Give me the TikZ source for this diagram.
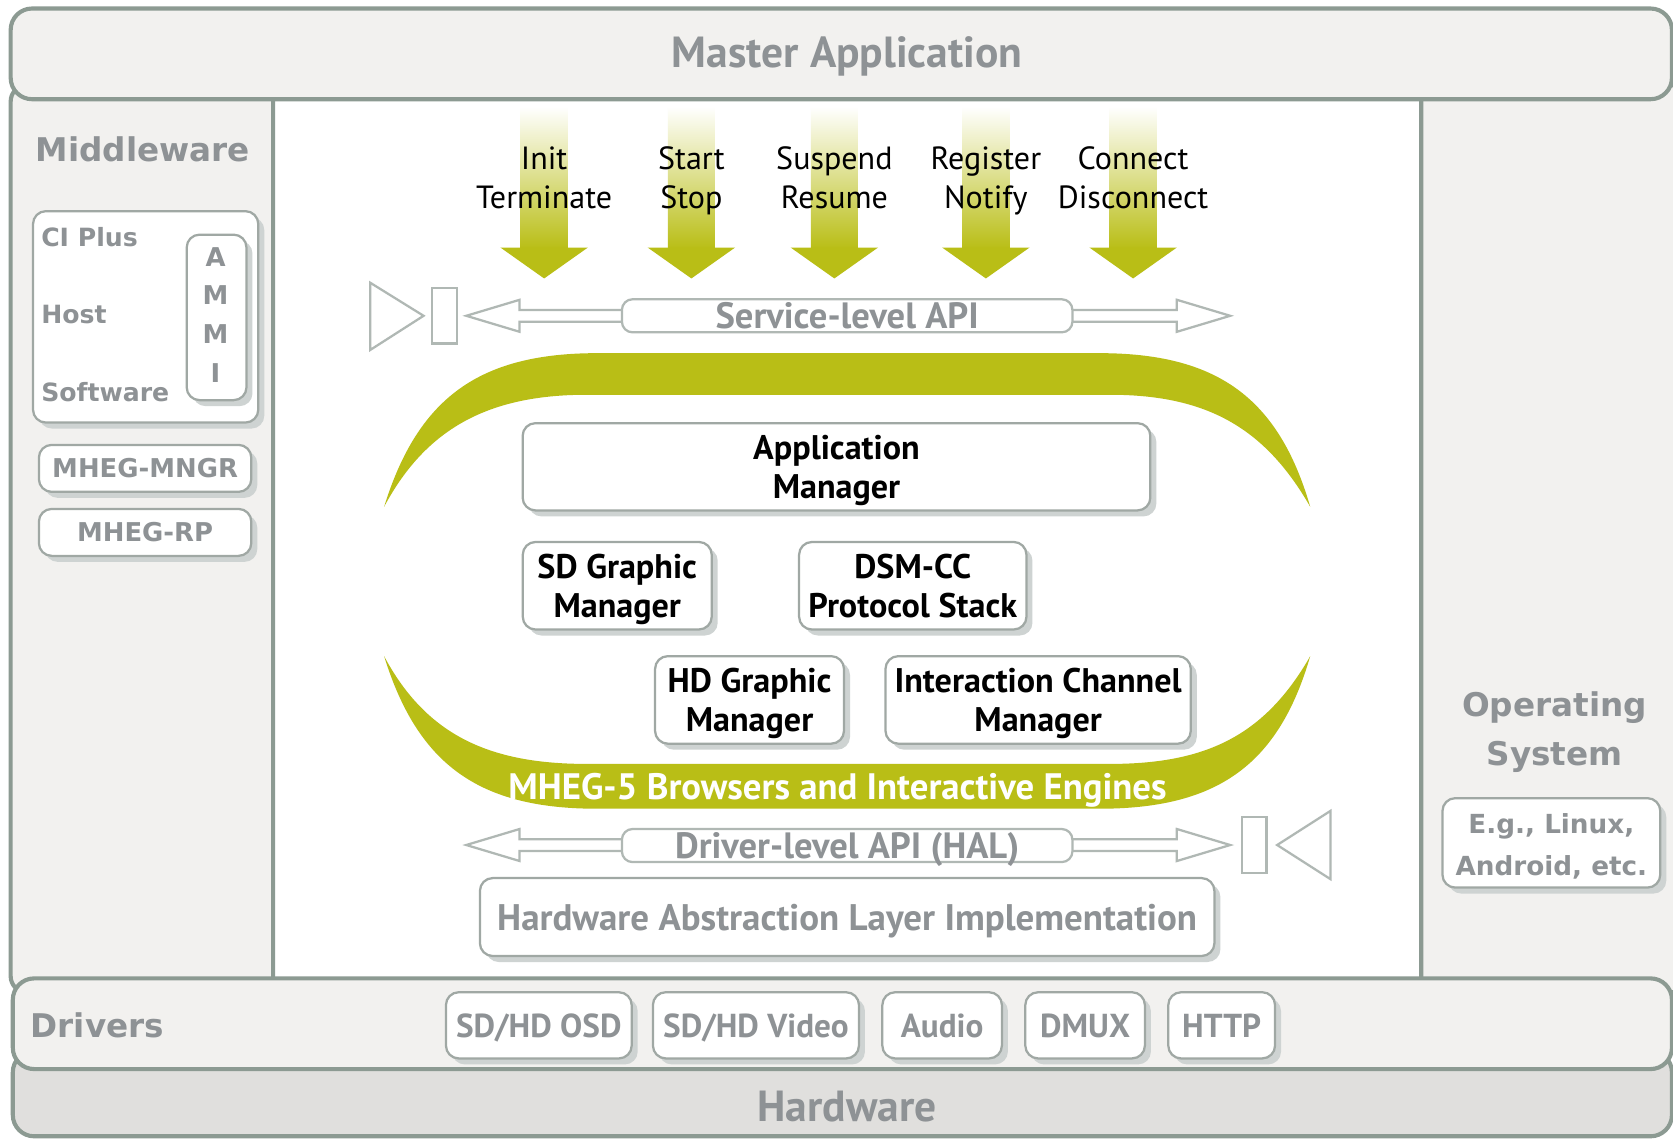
\documentclass[tikz,border=0pt]{standalone}
\usepackage{fontspec}
\setmainfont{PT Sans}
\newfontfamily\verfont{DejaVu Sans}
\usetikzlibrary{shadows}
\definecolor{bordc}{RGB}{140,154,146}
\definecolor{panelc}{RGB}{242,241,239}
\definecolor{hwc}{RGB}{224,223,221}
\definecolor{txtc}{RGB}{142,146,149}
\definecolor{mhegolive}{RGB}{185,190,22}
\definecolor{boxc}{RGB}{160,168,164}
\definecolor{shadowc}{RGB}{206,211,210}
\definecolor{apic}{RGB}{176,184,180}
\newcommand\fsz[2]{\fontsize{#1}{#2}\selectfont}
\newcommand\hitop{\rule{0pt}{9.6pt}}
\newcommand\egtop{\rule{0pt}{9.4pt}}
\tikzset{
  panel/.style={draw=bordc, line width=1.1pt, fill=panelc},
  wbox/.style={draw=boxc, line width=0.6pt, fill=white, rounded corners=1.2mm,
    drop shadow={shadow xshift=1.6pt, shadow yshift=-1.6pt, fill=shadowc, opacity=1},
    inner sep=0pt, align=center},
  apiarrow/.style={draw=apic, line width=0.6pt, fill=white},
  apibox/.style={draw=apic, line width=0.6pt, fill=white, rounded corners=1mm, inner sep=0pt,
    minimum width=42.2mm, minimum height=3.1mm, text=txtc, font=\bfseries\fsz{9.75}{11},
    text depth=0pt},
  graybig/.style={text=txtc, font=\bfseries\fsz{11.6}{13}, anchor=base},
  verbig/.style={text=txtc, font=\verfont\bfseries\fsz{8.7}{13.1}, align=center, inner sep=0pt},
  versmall/.style={text=txtc, font=\verfont\bfseries\fsz{6.9}{11.1}, align=center, inner sep=0pt},
  blackbox/.style={wbox, font=\bfseries\fsz{9.1}{10.5}},
  drvbox/.style={wbox, text=txtc, font=\bfseries\fsz{8.85}{10}, minimum height=6.2mm, text depth=0pt},
  arrlbl/.style={font=\fsz{8.55}{10.5}, align=center, inner sep=0pt},
}
\begin{document}
\begin{tikzpicture}[x=0.01cm,y=-0.01cm]
\useasboundingbox (0,0) rectangle (1568,1068);
\begin{scope}
\clip (0,0) rectangle (1568,1068);
% background panels
\fill[white] (0,0) rectangle (1568,1068);
\draw[panel, rounded corners=1.5mm] (10,80) rectangle (256,930);
\draw[panel, rounded corners=1.5mm] (1332,80) rectangle (1600,930);
\draw[panel, rounded corners=2mm] (10,8) rectangle (1567,93);
\draw[panel, fill=hwc, rounded corners=2mm] (12,985) rectangle (1567,1065);
\draw[panel, rounded corners=2mm] (12,917) rectangle (1567,1002);
\end{scope}

\node[graybig] (master) at (794,63) {Master Application};
\node[graybig] (hardware) at (794,1051) {Hardware};
\node[verbig] (middleware) at (134,140) {Middleware};
\node[verbig] (os) at (1457,686) {Operating\\System};
\node[verbig, anchor=west] (drivers) at (28,961) {Drivers};

% CI Plus box
\node[wbox, minimum width=21.1mm, minimum height=19.8mm] (ci) at (136.5,297) {};
\node[versmall, anchor=west, font=\verfont\bfseries\fsz{6.7}{11}] (ciplus) at (38,222) {CI Plus};
\node[versmall, anchor=west, font=\verfont\bfseries\fsz{6.7}{11}] (host) at (38,295) {Host};
\node[versmall, anchor=west, font=\verfont\bfseries\fsz{6.7}{11}] (software) at (38,368) {Software};
\node[wbox, minimum width=5.6mm, minimum height=15.5mm] (ammi) at (203,297.5) {};
\foreach \l/\yy [count=\i] in {A/241,M/277,M/313,I/350}
  \node[versmall] (ammi\i) at (202,\yy) {\l};
\node[wbox, minimum width=19.9mm, minimum height=4.4mm, versmall] (mngr) at (136,439) {MHEG-MNGR};
\node[wbox, minimum width=19.9mm, minimum height=4.4mm, versmall] (rp) at (136,499) {MHEG-RP};
\node[wbox, minimum width=20.4mm, minimum height=7.6mm, versmall, font=\verfont\bfseries\fsz{7}{11.1}] (eg) at (1454,790) {\egtop E.g., Linux,\\\strut Android, etc.};

% top arrows
\foreach \x in {510,648,782,924,1062} {
  \shade[top color=white, bottom color=mhegolive] (\x-22,100) rectangle (\x+22,233);
  \fill[mhegolive] (\x-41,232) -- (\x+41,232) -- (\x,261) -- cycle;
}
\node[arrlbl] (a1) at (510,170) {\strut Init\\\strut Terminate};
\node[arrlbl] (a2) at (648,170) {\strut Start\\\strut Stop};
\node[arrlbl] (a3) at (782,170) {\strut Suspend\\\strut Resume};
\node[arrlbl] (a4) at (924,170) {\strut Register\\\strut Notify};
\node[arrlbl] (a5) at (1062,170) {\strut Connect\\\strut Disconnect};

% service-level API
\draw[apiarrow] (347,265) -- (397,296) -- (347,328) -- cycle;
\draw[apiarrow] (405,270) rectangle (428,322);
\draw[apiarrow] (437,296) -- (487,281) -- (487,290.5) -- (590,290.5) -- (590,301.5) -- (487,301.5) -- (487,311) -- cycle;
\draw[apiarrow] (1153,296) -- (1103,281) -- (1103,290.5) -- (1000,290.5) -- (1000,301.5) -- (1103,301.5) -- (1103,311) -- cycle;
\node[apibox] (sapi) at (794,296) {Service-level API};

% crescents
\fill[mhegolive] (360,475) .. controls (392,372) and (450,331) .. (560,331) -- (1030,331)
  .. controls (1140,331) and (1198,372) .. (1228,475)
  .. controls (1185,400) and (1130,370) .. (1040,370) -- (550,370)
  .. controls (460,370) and (400,400) .. (360,475) -- cycle;
\fill[mhegolive] (360,615) .. controls (392,718) and (450,758) .. (560,758) -- (1030,758)
  .. controls (1140,758) and (1198,718) .. (1228,615)
  .. controls (1185,690) and (1130,716) .. (1040,716) -- (550,716)
  .. controls (460,716) and (400,690) .. (360,615) -- cycle;
\node[text=white, font=\bfseries\fsz{9.8}{11}, anchor=base] (mheg) at (785,749) {MHEG-5 Browsers and Interactive Engines};

% inner boxes
\node[blackbox, minimum width=58.8mm, minimum height=8.1mm] (appmgr) at (784,437.5) {\hitop Application\\\strut Manager};
\node[blackbox, minimum width=17.7mm, minimum height=8.2mm] (sdg) at (578.5,549) {\hitop SD Graphic\\\strut Manager};
\node[blackbox, minimum width=21.3mm, minimum height=8.2mm] (dsm) at (855.5,549) {\hitop DSM-CC\\\strut Protocol Stack};
\node[blackbox, minimum width=17.7mm, minimum height=8.2mm] (hdg) at (702.5,656) {\hitop HD Graphic\\\strut Manager};
\node[blackbox, minimum width=28.6mm, minimum height=8.2mm] (icm) at (973,656) {\hitop Interaction Channel\\\strut Manager};

% driver-level API
\draw[apiarrow] (437,792) -- (487,777) -- (487,786.5) -- (590,786.5) -- (590,797.5) -- (487,797.5) -- (487,807) -- cycle;
\draw[apiarrow] (1153,792) -- (1103,777) -- (1103,786.5) -- (1000,786.5) -- (1000,797.5) -- (1103,797.5) -- (1103,807) -- cycle;
\node[apibox] (dapi) at (794,792.5) {Driver-level API (HAL)};
\draw[apiarrow] (1164,766) rectangle (1187,818);
\draw[apiarrow] (1247,760) -- (1197,792) -- (1247,824) -- cycle;

\node[wbox, minimum width=68.8mm, minimum height=7.3mm, text=txtc, font=\bfseries\fsz{9.85}{11}, text depth=0pt] (hal) at (794,859.5) {Hardware Abstraction Layer Implementation};

% driver boxes
\node[drvbox, minimum width=17.4mm] (osd) at (505,961) {SD/HD OSD};
\node[drvbox, minimum width=19.3mm] (vid) at (708.5,961) {SD/HD Video};
\node[drvbox, minimum width=11.2mm] (aud) at (883,961) {Audio};
\node[drvbox, minimum width=11.2mm] (dmux) at (1017,961) {DMUX};
\node[drvbox, minimum width=10.0mm] (http) at (1145,961) {HTTP};
\end{tikzpicture}
\end{document}
